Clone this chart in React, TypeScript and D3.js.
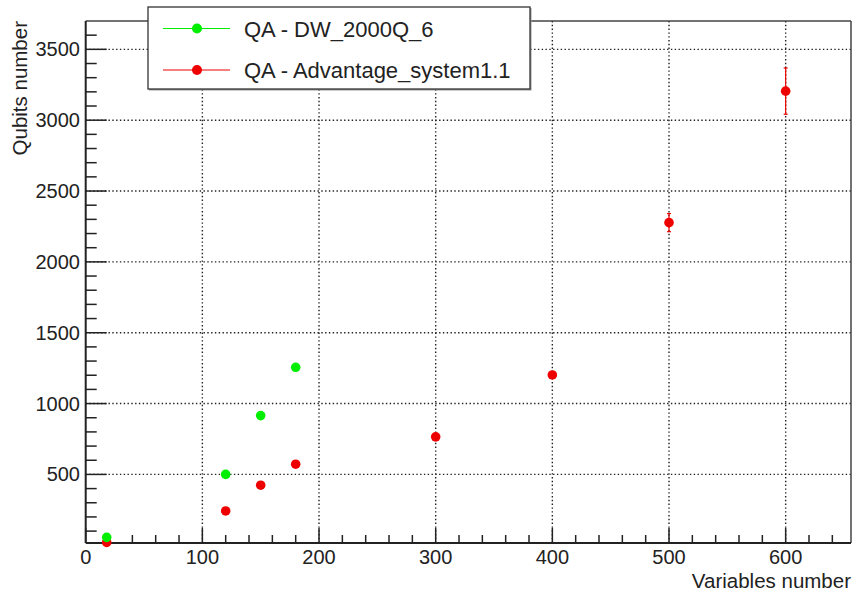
import React from "react";
import * as d3 from "d3";

const dwX = [18, 120, 150, 180];
const dwY = [56, 500, 915, 1256];

const advX = [18, 120, 150, 180, 300, 400, 500, 600];
const advY = [20, 242, 424, 572, 765, 1202, 2277, 3205];
const advErr = [0, 0, 0, 0, 0, 0, 64, 163];

const xMajorTicks = [0, 100, 200, 300, 400, 500, 600];
const yMajorTicks = [500, 1000, 1500, 2000, 2500, 3000, 3500];

const legendLabels = ["QA - DW_2000Q_6", "QA - Advantage_system1.1"];
const GREEN = "#00ee00";
const RED = "#ee0000";

const W = 853;
const H = 593;
const L = 85.7;
const R = 851;
const T = 21;
const B = 543;

export default function App() {
  const x = d3.scaleLinear().domain([0, 656]).range([L, R]);
  const y = d3.scaleLinear().domain([16, 3700]).range([B, T]);
  const xMinor = d3.range(0, 656, 20).filter((v) => v % 100 !== 0);
  const yMinor = d3.range(100, 3700, 100).filter((v) => v % 500 !== 0);
  const font = "'Liberation Sans', Arial, Helvetica, sans-serif";
  const colors = [GREEN, RED];

  return (
    <svg
      width={W}
      height={H}
      style={{ position: "fixed", left: 0, top: 0, background: "#fff" }}
      fontFamily={font}
    >
      <rect x={0} y={0} width={W} height={H} fill="#fff" />
      {/* grid */}
      {xMajorTicks.filter((v) => v > 0).map((v) => (
        <line key={"gx" + v} x1={x(v)} x2={x(v)} y1={T} y2={B} stroke="#222" strokeWidth={1.4} strokeDasharray="1.4 2.4" />
      ))}
      {yMajorTicks.map((v) => (
        <line key={"gy" + v} x1={L} x2={R} y1={y(v)} y2={y(v)} stroke="#222" strokeWidth={1.4} strokeDasharray="1.4 2.4" />
      ))}
      {/* frame */}
      <line x1={L} x2={R} y1={T} y2={T} stroke="#444" strokeWidth={1.5} />
      <line x1={R} x2={R} y1={T} y2={B} stroke="#444" strokeWidth={1.5} />
      {/* axes */}
      <line x1={L} x2={L} y1={T} y2={B} stroke="#222" strokeWidth={2} />
      <line x1={L} x2={R} y1={B} y2={B} stroke="#222" strokeWidth={2} />
      {xMajorTicks.map((v) => (
        <g key={"xt" + v}>
          <line x1={x(v)} x2={x(v)} y1={B} y2={B - 15} stroke="#222" strokeWidth={1.5} />
          <text x={x(v)} y={564} textAnchor="middle" fontSize={20} fill="#222">{v}</text>
        </g>
      ))}
      {xMinor.map((v) => (
        <line key={"xm" + v} x1={x(v)} x2={x(v)} y1={B} y2={B - 8} stroke="#222" strokeWidth={1.5} />
      ))}
      {yMajorTicks.map((v) => (
        <g key={"yt" + v}>
          <line x1={L} x2={L + 21} y1={y(v)} y2={y(v)} stroke="#222" strokeWidth={1.5} />
          <text x={80} y={y(v) + 7} textAnchor="end" fontSize={20} fill="#222">{v}</text>
        </g>
      ))}
      {yMinor.map((v) => (
        <line key={"ym" + v} x1={L} x2={L + 11} y1={y(v)} y2={y(v)} stroke="#222" strokeWidth={1.5} />
      ))}
      {/* titles */}
      <text x={R} y={588} textAnchor="end" fontSize={20.5} fill="#222">Variables number</text>
      <text transform={`translate(27,${T}) rotate(-90)`} textAnchor="end" fontSize={20.5} fill="#222">Qubits number</text>
      {/* error bars */}
      {advX.map((v, i) =>
        advErr[i] > 0 ? (
          <g key={"e" + i} stroke={RED} strokeWidth={1.2}>
            <line x1={x(v)} x2={x(v)} y1={y(advY[i] - advErr[i])} y2={y(advY[i] + advErr[i])} />
            <line x1={x(v) - 2} x2={x(v) + 2} y1={y(advY[i] - advErr[i])} y2={y(advY[i] - advErr[i])} />
            <line x1={x(v) - 2} x2={x(v) + 2} y1={y(advY[i] + advErr[i])} y2={y(advY[i] + advErr[i])} />
          </g>
        ) : null
      )}
      {/* points */}
      {advX.map((v, i) => (
        <circle key={"r" + i} cx={x(v)} cy={y(advY[i])} r={4.8} fill={RED} />
      ))}
      {dwX.map((v, i) => (
        <circle key={"g" + i} cx={x(v)} cy={y(dwY[i])} r={4.8} fill={GREEN} />
      ))}
      {/* legend */}
      <rect x={149} y={8} width={382.5} height={82.5} fill="#999" />
      <rect x={148} y={7} width={382} height={82} fill="#fff" stroke="#333" strokeWidth={1.3} />
      {legendLabels.map((lab, i) => {
        const ly = i === 0 ? 28.5 : 70;
        return (
          <g key={"l" + i}>
            <line x1={163} x2={230} y1={ly} y2={ly} stroke={colors[i]} strokeWidth={1.2} />
            <circle cx={197} cy={ly} r={5} fill={colors[i]} />
            <text x={244} y={ly + 8} fontSize={22} fill="#222">{lab}</text>
          </g>
        );
      })}
    </svg>
  );
}
